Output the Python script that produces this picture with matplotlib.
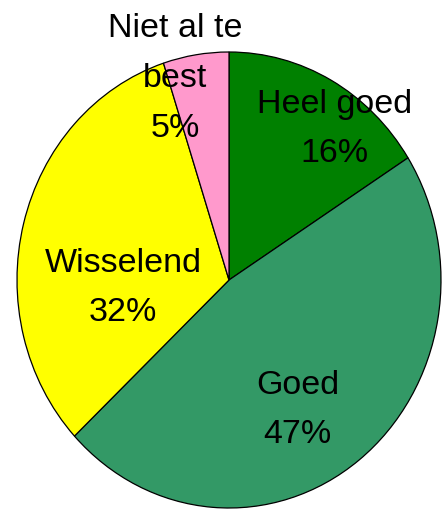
import matplotlib
matplotlib.use("Agg")
import matplotlib.pyplot as plt
import numpy as np

plt.rcParams['font.family'] = ['Liberation Sans', 'DejaVu Sans']

# data
labels = ['Heel goed', 'Goed', 'Wisselend', 'Niet al te\nbest']
shares = [16, 47, 32, 5]
colors = ['#008000', '#339966', '#ffff00', '#ff99cc']

# where each label sits (angle in degrees, distance from centre as fraction of radius)
label_angle = [53, -60.5, 184, 106]
label_dist = [0.83, 0.655, 0.50, 0.92]

fig = plt.figure(figsize=(4.46, 5.09), dpi=100)
W, H = 446.0, 509.0
# pie centre (229, 280) px from top-left, radii 212 x 228 px
lim = 1.05
ax_w = 2 * lim * 212
ax_h = 2 * lim * 228
ax = fig.add_axes([(229 - ax_w / 2) / W, ((H - 280) - ax_h / 2) / H, ax_w / W, ax_h / H])

wedges, _ = ax.pie(shares, colors=colors, startangle=90, counterclock=False,
                   wedgeprops=dict(edgecolor='black', linewidth=0.9))
ax.set_aspect('auto')
ax.set_xlim(-lim, lim)
ax.set_ylim(-lim, lim)
ax.axis('off')

for lab, val, a, r in zip(labels, shares, label_angle, label_dist):
    x = r * np.cos(np.radians(a))
    y = r * np.sin(np.radians(a))
    ax.text(x, y, '{}\n{}%'.format(lab, val), ha='center', va='center',
            multialignment='center', fontsize=24.5, linespacing=1.78, color='black')

fig.savefig('out.png', dpi=100)
